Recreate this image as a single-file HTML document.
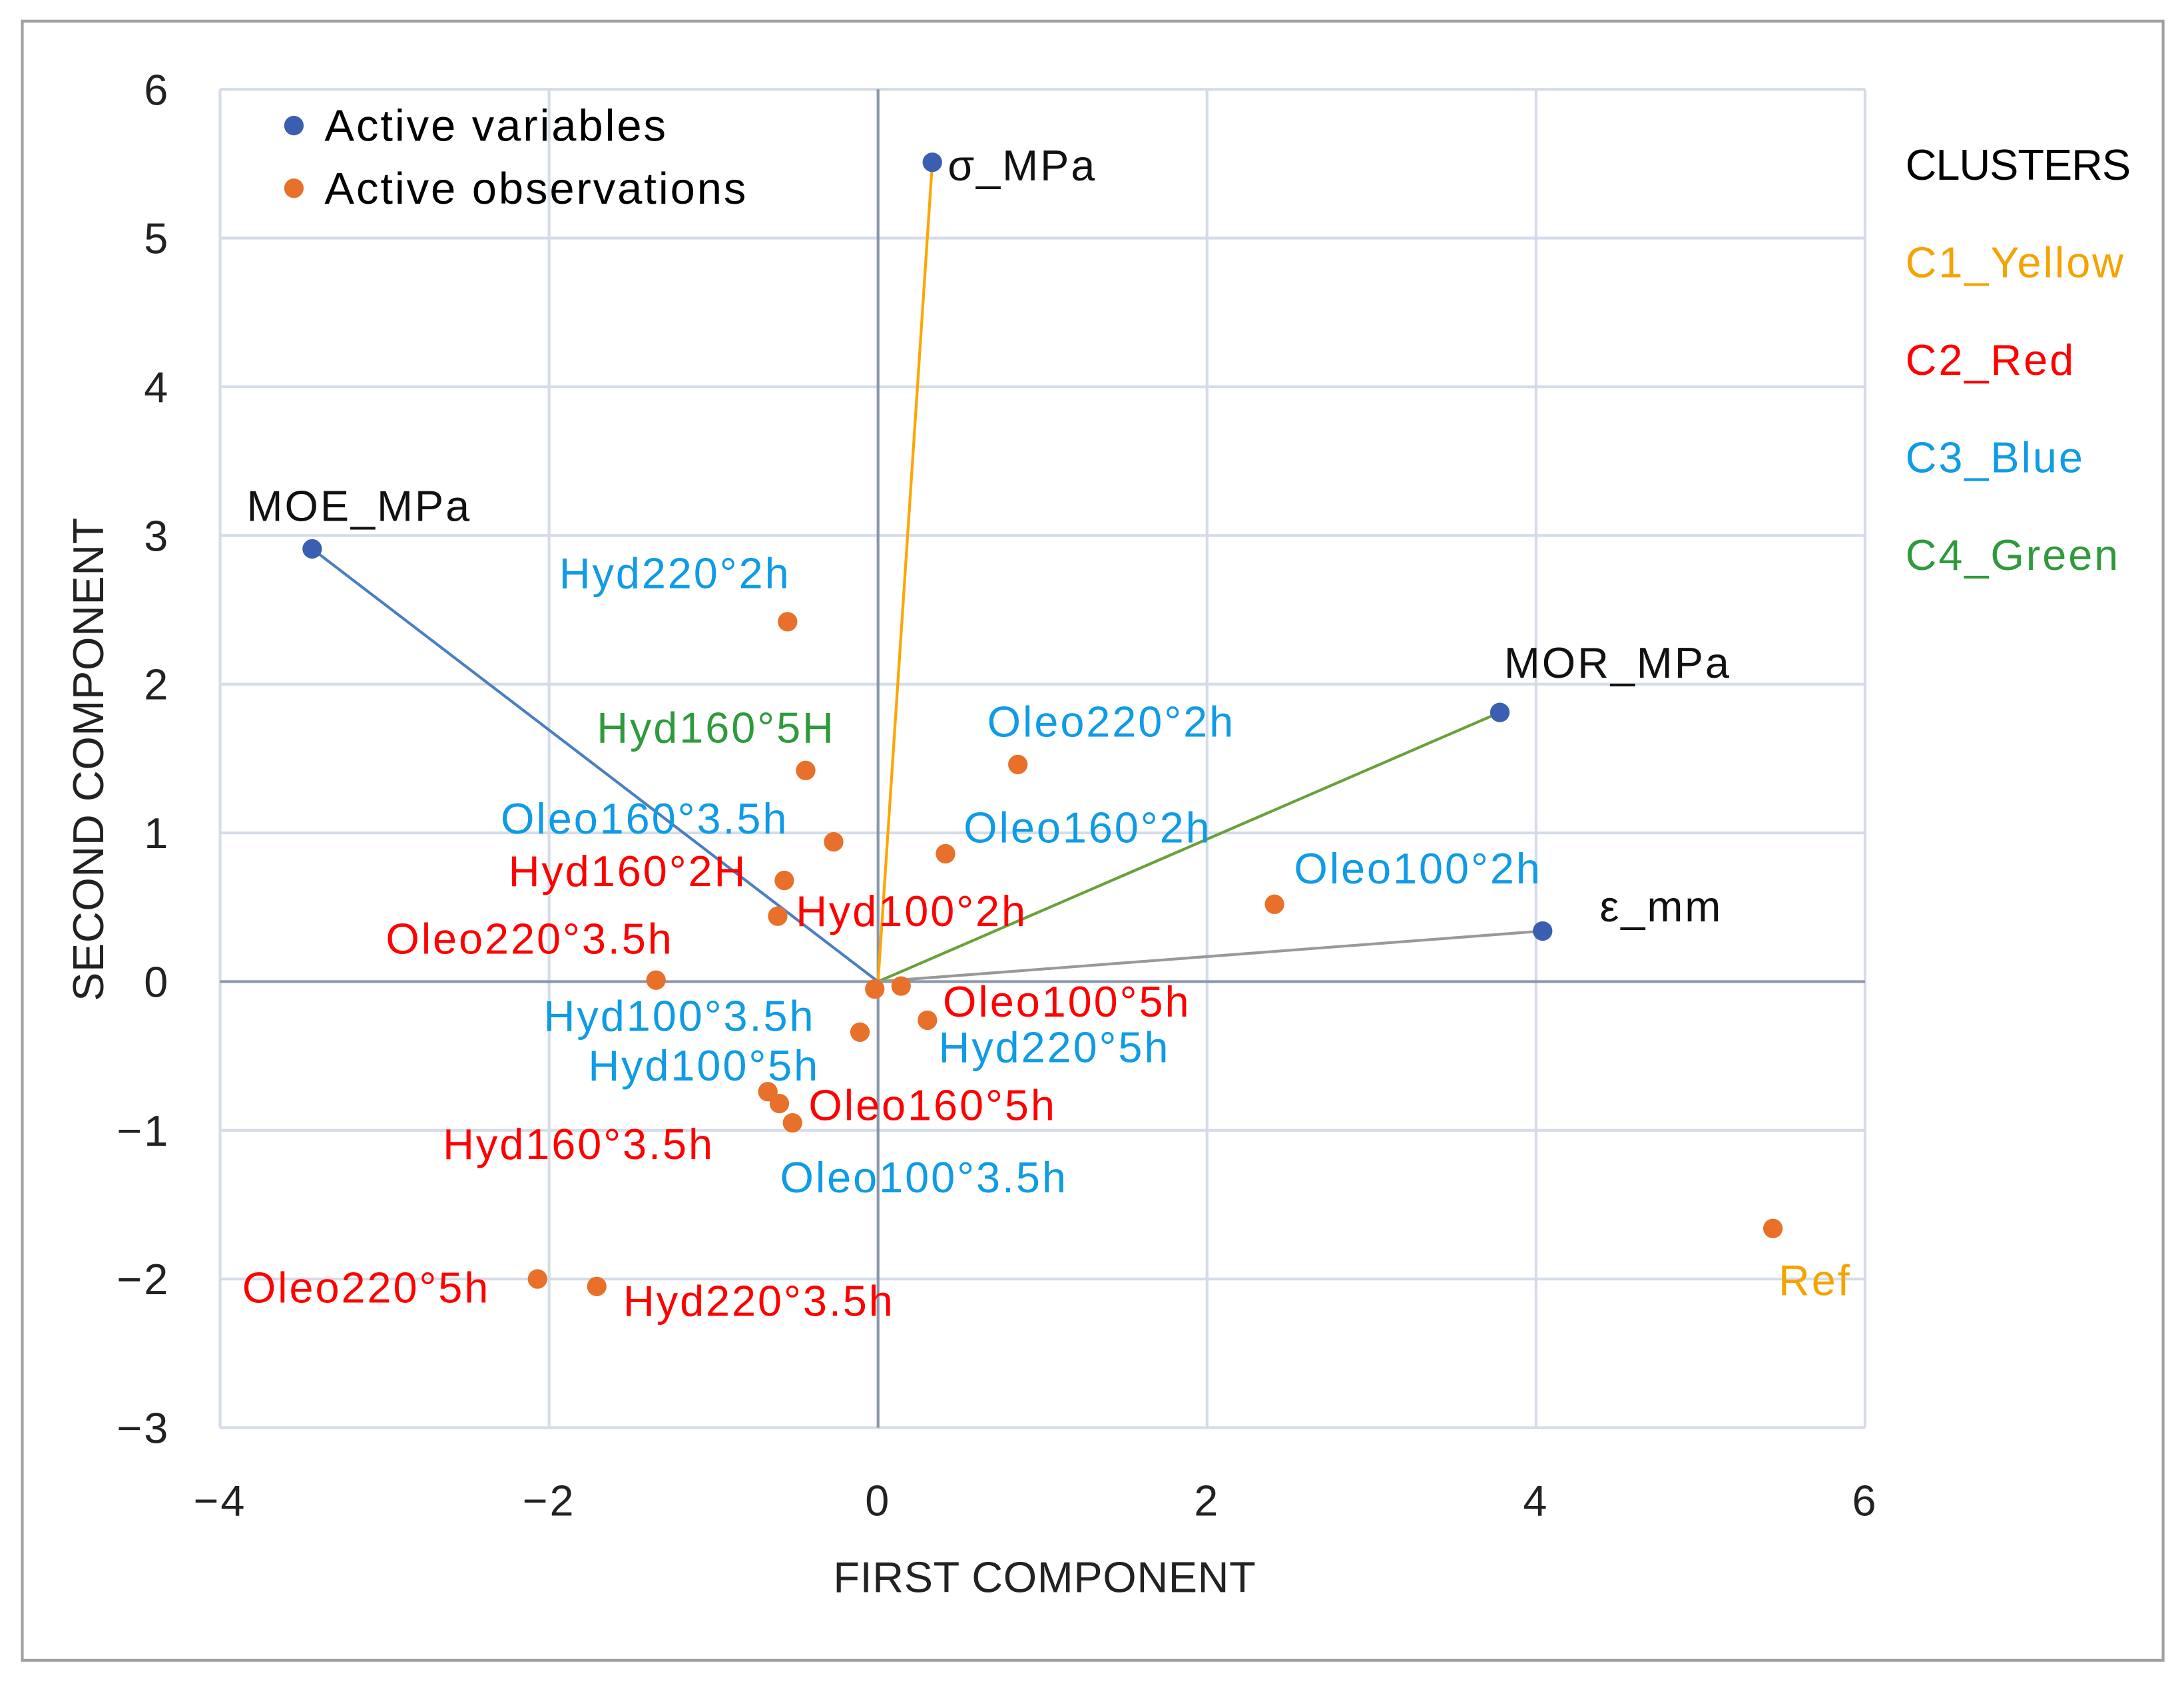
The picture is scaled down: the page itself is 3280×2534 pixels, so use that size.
<!DOCTYPE html>
<html><head><meta charset="utf-8"><style>
html,body{margin:0;padding:0;background:#fff;}
svg{display:block;font-family:"Liberation Sans",sans-serif;}
svg text{letter-spacing:1.4px;}
</style></head><body>
<svg id="chart" width="3280" height="2534" viewBox="0 0 1568 1211" xmlns="http://www.w3.org/2000/svg">
<rect x="16" y="15" width="1537" height="1177" fill="#fff" stroke="#a0a0a0" stroke-width="2"/>
<g id="grid"></g>
<g id="axes"></g>
<g id="vecs"></g>
<g id="obs"></g>
<g id="legend">
  <circle cx="211" cy="90" r="7" fill="#3a5fb0"/>
  <text x="233" y="101" font-size="32" fill="#000">Active variables</text>
  <circle cx="211" cy="135" r="7" fill="#e8702a"/>
  <text x="233" y="146" font-size="32" fill="#000">Active observations</text>
</g>
<g font-size="31">
  <text x="1368" y="129" fill="#000" style="letter-spacing:-0.5px">CLUSTERS</text>
  <text x="1368" y="199" fill="#f5a300">C1_Yellow</text>
  <text x="1368" y="269" fill="#ff0000">C2_Red</text>
  <text x="1368" y="339" fill="#0f9be6">C3_Blue</text>
  <text x="1368" y="409" fill="#2f9a3c">C4_Green</text>
</g>
<text x="750" y="1143" font-size="31" text-anchor="middle" fill="#222" style="letter-spacing:0.3px">FIRST COMPONENT</text>
<text x="0" y="0" font-size="31" text-anchor="middle" fill="#222" transform="translate(74,545) rotate(-90)" style="letter-spacing:0.3px">SECOND COMPONENT</text>
</svg>
<script>
const xTicks=[-4,-2,0,2,4,6];
const yTicks=[-3,-2,-1,0,1,2,3,4,5,6];
const varNames=["σ_MPa","MOE_MPa","MOR_MPa","ε_mm"];
const varX=[0.33,-3.44,3.78,4.04];
const varY=[5.51,2.91,1.81,0.34];
const varColors=["#ffa500","#4a7fc1","#6aa03a","#999999"];
const obsNames=["Hyd220°2h","Hyd160°5H","Oleo220°2h","Oleo160°3.5h","Oleo160°2h","Hyd160°2H","Hyd100°2h","Oleo100°2h","Oleo220°3.5h","Oleo100°3.5h","Oleo100°5h","Hyd100°3.5h","Hyd220°5h","Hyd100°5h","Oleo160°5h","Hyd160°3.5h","Oleo220°5h","Hyd220°3.5h","Ref"];
const obsX=[-0.55,-0.44,0.85,-0.27,0.41,-0.57,-0.61,2.41,-1.35,-0.02,0.14,-0.11,0.30,-0.67,-0.60,-0.52,-2.07,-1.71,5.44];
const obsY=[2.42,1.42,1.46,0.94,0.86,0.68,0.44,0.52,0.01,-0.05,-0.03,-0.34,-0.26,-0.74,-0.82,-0.95,-2.00,-2.05,-1.66];
const obsCluster=["C3","C4","C3","C3","C3","C2","C2","C3","C2","C3","C2","C3","C3","C3","C2","C2","C2","C2","C1"];
const clusterColor={C1:"#f5a300",C2:"#ff0000",C3:"#0f9be6",C4:"#2f9a3c"};
// label offsets (layout, px)
const obsDx=[-164,-150,-22,-239,13,-198,13,14,-194,-68,30,-227,8,-129,21,-251,-212,19,4];
const obsDy=[-24,-20,-20,-6,-8,4,7,-15,-19,146,22,-1,30,-8,12,26,17,21,48];
const varDx=[11,-47,3,41], varDy=[13,-20,-25,-7];

const NS="http://www.w3.org/2000/svg";
const X0=158,X1=1339,Y0=1025,Y1=64;
const sx=v=>X0+(v-(-4))/(10)*(X1-X0);
const sy=v=>Y0-(v-(-3))/(9)*(Y0-Y1);
function mk(tag,attrs,parent,txt){const e=document.createElementNS(NS,tag);for(const k in attrs)e.setAttribute(k,attrs[k]);if(txt!==undefined)e.textContent=txt;parent.appendChild(e);return e;}
const grid=document.getElementById('grid'),axes=document.getElementById('axes');
xTicks.forEach(t=>{
  const l=mk('line',{x1:sx(t),x2:sx(t),y1:Y1,y2:Y0,stroke:t===0?'#8a96aa':'#d5dce8','stroke-width':2},t===0?axes:grid);
  
  
  const tx=mk('text',{x:sx(t),y:1088,'font-size':31,'text-anchor':'middle',fill:'#222'},axes,(t<0?'\u2212'+(-t):String(t)));
  
  
});
yTicks.forEach(t=>{
  const l=mk('line',{x1:X0,x2:X1,y1:sy(t),y2:sy(t),stroke:t===0?'#8a96aa':'#d5dce8','stroke-width':2},t===0?axes:grid);
  
  
  const tx=mk('text',{x:122,y:sy(t)+11,'font-size':31,'text-anchor':'end',fill:'#222'},axes,(t<0?'\u2212'+(-t):String(t)));
  
  
});
const vecs=document.getElementById('vecs'),obs=document.getElementById('obs');
varNames.forEach((n,i)=>{
  const l=mk('line',{x1:sx(0),y1:sy(0),x2:sx(varX[i]),y2:sy(varY[i]),stroke:varColors[i],'stroke-width':2},vecs);
  
  
});
obsNames.forEach((n,i)=>{
  const c=mk('circle',{cx:sx(obsX[i]),cy:sy(obsY[i]),r:7,fill:'#e8702a'},obs);
  
  
  const t=mk('text',{x:sx(obsX[i])+obsDx[i],y:sy(obsY[i])+obsDy[i],'font-size':31,fill:clusterColor[obsCluster[i]]},obs,n);
  
  
});
varNames.forEach((n,i)=>{
  const c=mk('circle',{cx:sx(varX[i]),cy:sy(varY[i]),r:7,fill:'#3a5fb0'},vecs);
  
  
  const t=mk('text',{x:sx(varX[i])+varDx[i],y:sy(varY[i])+varDy[i],'font-size':31,fill:'#111'},vecs,n);
  
  
});
</script>
</body></html>
